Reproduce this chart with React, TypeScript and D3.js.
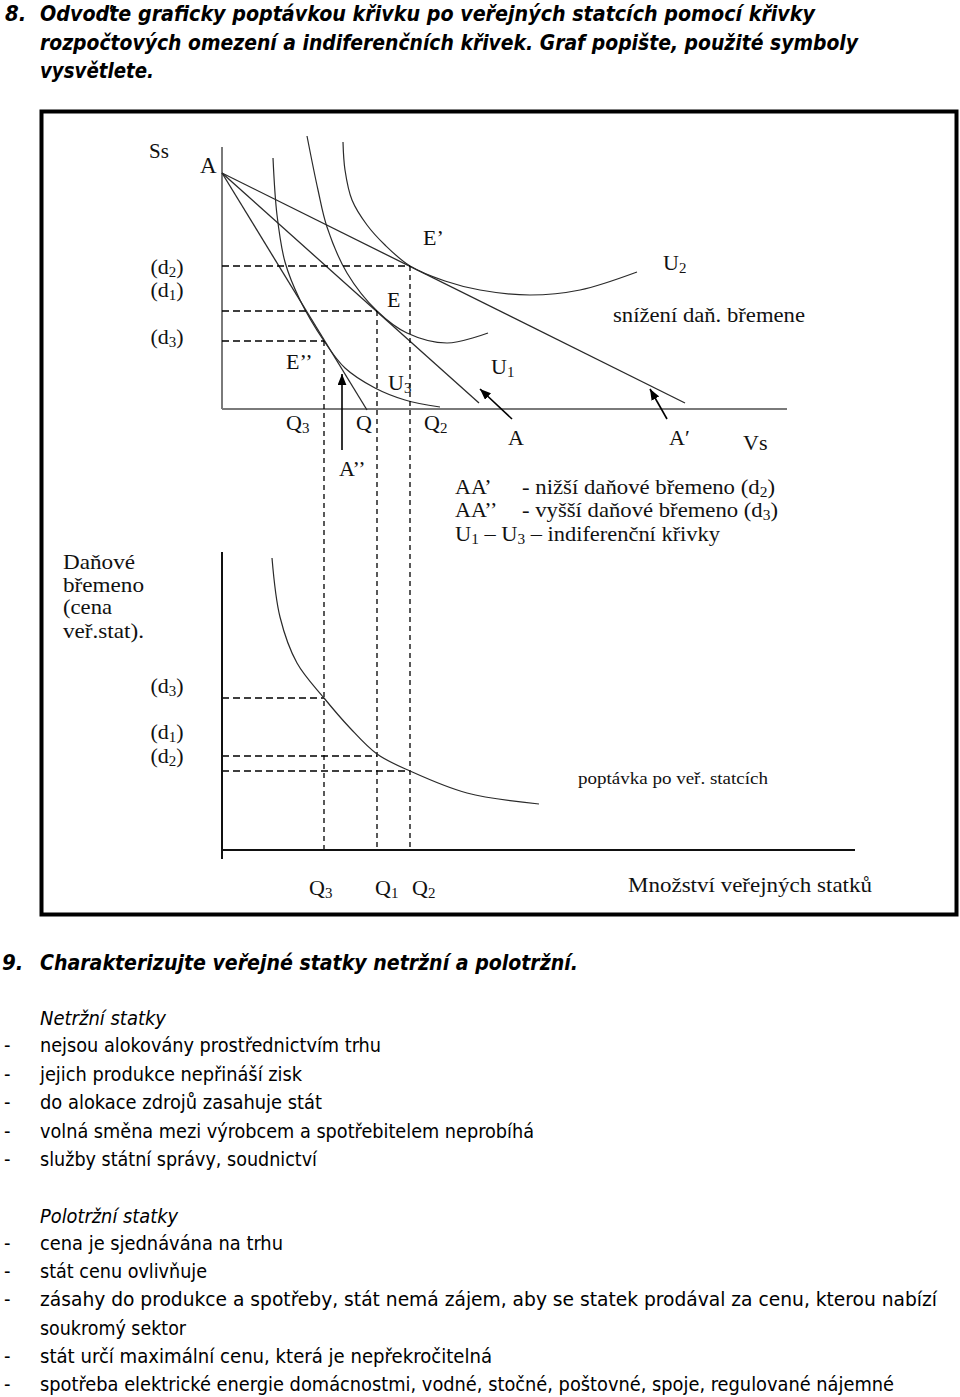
import React from "react";
import * as d3 from "d3";

// ---------- DATA (abstract units: quantity of public goods, private goods / tax burden) ----------
const interceptS = 236; // point A on the Ss axis
const budgetNames = ["AA''", "AA", "AA'"];
const budgetEndQ = [145, 257, 463];
const budgetEndS = [-1, 6, 6];

// indifference curves (Vs, Ss)
const u3Q = [51, 55, 63, 78, 102, 123, 153, 183, 218];
const u3S = [251, 194, 147, 109, 68, 41, 21, 9, 2];
const u1Q = [85, 96, 105, 125, 155, 185, 225, 266];
const u1S = [273, 219, 182, 136, 98, 76, 66, 76];
const u2Q = [121, 123, 130, 145, 163, 188, 223, 258, 308, 358, 415];
const u2S = [267, 239, 209, 184, 164, 143, 128, 119, 114, 119, 137];

// equilibria: E'' (d3, Q3), E (d1, Q1), E' (d2, Q2)
const eqNames = ["d3", "d1", "d2"];
const eqQ = [102, 155, 188];
const eqS = [68, 98, 143];
const eqPrice = [152, 94, 79];

// demand curve for public goods (quantity, tax burden)
const demandQ = [50, 58, 75, 102, 128, 155, 188, 245, 317];
const demandP = [292, 233, 187, 152, 122, 96, 79, 57, 46];

const heading8 = [
  "Odvoďte graficky poptávkou křivku po veřejných statcích pomocí křivky",
  "rozpočtových omezení a indiferenčních křivek. Graf popište, použité symboly",
  "vysvětlete.",
];
const heading9 = "Charakterizujte veřejné statky netržní a polotržní.";
const netrzniTitle = "Netržní statky";
const netrzniItems = [
  "nejsou alokovány prostřednictvím trhu",
  "jejich produkce nepřináší zisk",
  "do alokace zdrojů zasahuje stát",
  "volná směna mezi výrobcem a spotřebitelem neprobíhá",
  "služby státní správy, soudnictví",
];
const polotrzniTitle = "Polotržní statky";
const polotrzniItems = [
  "cena je sjednávána na trhu",
  "stát cenu ovlivňuje",
  "zásahy do produkce a spotřeby, stát nemá zájem, aby se statek prodával za cenu, kterou nabízí",
  "soukromý sektor",
  "stát určí maximální cenu, která je nepřekročitelná",
  "spotřeba elektrické energie domácnostmi, vodné, stočné, poštovné, spoje, regulované nájemné",
];
const polotrzniDash = [true, true, true, false, true, true];

// ---------- LAYOUT ----------
const heading8Widths = [775, 818, 114];
const netrzniWidths = [341, 262, 282, 494, 277];
const polotrzniWidths = [243, 167, 897, 146, 452, 854];

const SERIF = "'Liberation Serif', 'Times New Roman', serif";
const SANS = "'DejaVu Sans Condensed', 'DejaVu Sans', Verdana, sans-serif";

const x = d3.scaleLinear().domain([0, 565]).range([222, 787]);
const yT = d3.scaleLinear().domain([0, 262]).range([409, 147]);
const yB = d3.scaleLinear().domain([0, 298]).range([850, 552]);

const lineTop = d3
  .line<[number, number]>()
  .x((d) => x(d[0]))
  .y((d) => yT(d[1]))
  .curve(d3.curveCatmullRom.alpha(0.5));
const lineBot = d3
  .line<[number, number]>()
  .x((d) => x(d[0]))
  .y((d) => yB(d[1]))
  .curve(d3.curveCatmullRom.alpha(0.5));

const zip = (a: number[], b: number[]) => a.map((v, i) => [v, b[i]] as [number, number]);

function SubLabel({ x, y, base, sub, after = "", size = 21, anchor = "start" }: any) {
  return (
    <text x={x} y={y} fontFamily={SERIF} fontSize={size} textAnchor={anchor} fill="#111">
      {base}
      <tspan fontSize={size * 0.68} dy={3}>
        {sub}
      </tspan>
      {after ? <tspan dy={-3}>{after}</tspan> : null}
    </text>
  );
}

export default function App() {
  const curveStyle = { fill: "none", stroke: "#2a2a2a", strokeWidth: 1.2 };
  const dashH = "7,4";
  const dashV = "5,4";
  return (
    <svg
      width={960}
      height={1397}
      viewBox="0 0 960 1397"
      style={{ position: "absolute", left: 0, top: 0, background: "#fff" }}
    >
      <defs>
        <marker id="arr" viewBox="0 0 10 8" refX={10} refY={4} markerWidth={11} markerHeight={9} markerUnits="userSpaceOnUse" orient="auto">
          <path d="M0,0 L10,4 L0,8 z" fill="#000" />
        </marker>
      </defs>
      <rect width={960} height={1397} fill="#fff" />

      {/* Heading 8 */}
      <g fontFamily={SANS} fontStretch="condensed" fontWeight="bold" fontStyle="italic" fontSize={22} fill="#000">
        <text x={5} y={21}>8.</text>
        {heading8.map((t, i) => (
          <text key={i} x={40} y={21 + i * 28.5} textLength={heading8Widths[i]} lengthAdjust="spacingAndGlyphs">
            {t}
          </text>
        ))}
      </g>

      {/* frame */}
      <rect x={41.5} y={111.5} width={915} height={803} fill="none" stroke="#000" strokeWidth={4} />

      {/* ---------- top panel ---------- */}
      <line x1={x(0)} y1={yT(262)} x2={x(0)} y2={yT(0)} stroke="#7a7a7a" strokeWidth={2} />
      <line x1={x(0)} y1={yT(0)} x2={x(565)} y2={yT(0)} stroke="#7a7a7a" strokeWidth={2} />

      {/* budget lines */}
      {budgetNames.map((n, i) => (
        <line key={n} x1={x(0)} y1={yT(interceptS)} x2={x(budgetEndQ[i])} y2={yT(budgetEndS[i])} stroke="#2a2a2a" strokeWidth={1.3} />
      ))}

      {/* indifference curves */}
      <path d={lineTop(zip(u3Q, u3S)) || ""} style={curveStyle} />
      <path d={lineTop(zip(u1Q, u1S)) || ""} style={curveStyle} />
      <path d={lineTop(zip(u2Q, u2S)) || ""} style={curveStyle} />

      {/* dashed guides */}
      {eqNames.map((n, i) => (
        <g key={n} stroke="#000" strokeWidth={1.3} fill="none">
          <line x1={x(0)} y1={yT(eqS[i])} x2={x(eqQ[i])} y2={yT(eqS[i])} strokeDasharray={dashH} />
          <line x1={x(eqQ[i])} y1={yT(eqS[i])} x2={x(eqQ[i])} y2={yB(0)} strokeDasharray={dashV} />
          <line x1={x(0)} y1={yB(eqPrice[i])} x2={x(eqQ[i])} y2={yB(eqPrice[i])} strokeDasharray={dashH} />
        </g>
      ))}

      {/* arrows */}
      <line x1={342} y1={450} x2={342} y2={374} stroke="#000" strokeWidth={1.6} markerEnd="url(#arr)" />
      <line x1={512} y1={419} x2={480} y2={389} stroke="#000" strokeWidth={1.6} markerEnd="url(#arr)" />
      <line x1={667} y1={419} x2={650} y2={389} stroke="#000" strokeWidth={1.6} markerEnd="url(#arr)" />

      {/* top labels */}
      <g fontFamily={SERIF} fill="#111">
        <text x={149} y={158} fontSize={21}>Ss</text>
        <text x={200} y={173} fontSize={23}>A</text>
        <text x={423} y={245} fontSize={22}>E’</text>
        <text x={387} y={307} fontSize={22}>E</text>
        <text x={286} y={369} fontSize={22}>E’’</text>
        <text x={339} y={476} fontSize={22}>A’’</text>
        <text x={508} y={445} fontSize={22}>A</text>
        <text x={669} y={445} fontSize={22}>A′</text>
        <text x={743} y={450} fontSize={22}>Vs</text>
        <text x={613} y={322} fontSize={20} textLength={192} lengthAdjust="spacingAndGlyphs">snížení daň. břemene</text>
      </g>
      <SubLabel x={167} y={274} base="(d" sub="2" after=")" anchor="middle" size={22} />
      <SubLabel x={167} y={297} base="(d" sub="1" after=")" anchor="middle" size={22} />
      <SubLabel x={167} y={344} base="(d" sub="3" after=")" anchor="middle" size={22} />
      <SubLabel x={388} y={390} base="U" sub="3" size={22} />
      <SubLabel x={663} y={270} base="U" sub="2" size={22} />
      <SubLabel x={491} y={374} base="U" sub="1" size={22} />
      <SubLabel x={286} y={430} base="Q" sub="3" size={22} />
      <text x={356} y={430} fontFamily={SERIF} fontSize={22} fill="#111">Q</text>
      <SubLabel x={424} y={430} base="Q" sub="2" size={22} />

      {/* legend */}
      <g fontFamily={SERIF} fontSize={22} fill="#111">
        <text x={455} y={494}>AA’</text>
        <text x={522} y={494} textLength={253} lengthAdjust="spacingAndGlyphs">
          - nižší daňové břemeno (d<tspan fontSize={15} dy={3}>2</tspan><tspan dy={-3}>)</tspan>
        </text>
        <text x={455} y={517}>AA’’</text>
        <text x={522} y={517} textLength={256} lengthAdjust="spacingAndGlyphs">
          - vyšší daňové břemeno (d<tspan fontSize={15} dy={3}>3</tspan><tspan dy={-3}>)</tspan>
        </text>
        <text x={455} y={541} textLength={265} lengthAdjust="spacingAndGlyphs">
          U<tspan fontSize={15} dy={3}>1</tspan><tspan dy={-3}> – U</tspan><tspan fontSize={15} dy={3}>3</tspan>
          <tspan dy={-3}> – indiferenční křivky</tspan>
        </text>
      </g>

      {/* ---------- bottom panel ---------- */}
      <line x1={x(0)} y1={yB(298)} x2={x(0)} y2={yB(-9)} stroke="#111" strokeWidth={2} />
      <line x1={x(0)} y1={yB(0)} x2={x(633)} y2={yB(0)} stroke="#111" strokeWidth={2} />
      <path d={lineBot(zip(demandQ, demandP)) || ""} style={curveStyle} />

      <g fontFamily={SERIF} fontSize={21} fill="#111">
        <text x={63} y={569} textLength={72} lengthAdjust="spacingAndGlyphs">Daňové</text>
        <text x={63} y={592} textLength={81} lengthAdjust="spacingAndGlyphs">břemeno</text>
        <text x={63} y={614} textLength={49} lengthAdjust="spacingAndGlyphs">(cena</text>
        <text x={63} y={638} textLength={81} lengthAdjust="spacingAndGlyphs">veř.stat).</text>
        <text x={578} y={784} fontSize={16} textLength={190} lengthAdjust="spacingAndGlyphs">poptávka po veř. statcích</text>
        <text x={628} y={892} fontSize={21} textLength={244} lengthAdjust="spacingAndGlyphs">Množství veřejných statků</text>
      </g>
      <SubLabel x={167} y={693} base="(d" sub="3" after=")" anchor="middle" size={22} />
      <SubLabel x={167} y={739} base="(d" sub="1" after=")" anchor="middle" size={22} />
      <SubLabel x={167} y={763} base="(d" sub="2" after=")" anchor="middle" size={22} />
      <SubLabel x={309} y={895} base="Q" sub="3" size={22} />
      <SubLabel x={375} y={895} base="Q" sub="1" size={22} />
      <SubLabel x={412} y={895} base="Q" sub="2" size={22} />

      {/* ---------- section 9 ---------- */}
      <g fontFamily={SANS} fontStretch="condensed" fontWeight="bold" fontStyle="italic" fontSize={22} fill="#000">
        <text x={2} y={970}>9.</text>
        <text x={40} y={970} textLength={538} lengthAdjust="spacingAndGlyphs">{heading9}</text>
      </g>
      <g fontFamily={SANS} fontStretch="condensed" fontSize={20} fill="#000">
        <text x={40} y={1025} fontStyle="italic" textLength={126} lengthAdjust="spacingAndGlyphs">{netrzniTitle}</text>
        {netrzniItems.map((t, i) => (
          <g key={t}>
            <text x={4} y={1052 + i * 28.5}>-</text>
            <text x={40} y={1052 + i * 28.5} textLength={netrzniWidths[i]} lengthAdjust="spacingAndGlyphs">{t}</text>
          </g>
        ))}
        <text x={40} y={1223} fontStyle="italic" textLength={138} lengthAdjust="spacingAndGlyphs">{polotrzniTitle}</text>
        {polotrzniItems.map((t, i) => (
          <g key={t}>
            {polotrzniDash[i] ? <text x={4} y={1250 + i * 28.2}>-</text> : null}
            <text x={40} y={1250 + i * 28.2} textLength={polotrzniWidths[i]} lengthAdjust="spacingAndGlyphs">{t}</text>
          </g>
        ))}
      </g>
    </svg>
  );
}
